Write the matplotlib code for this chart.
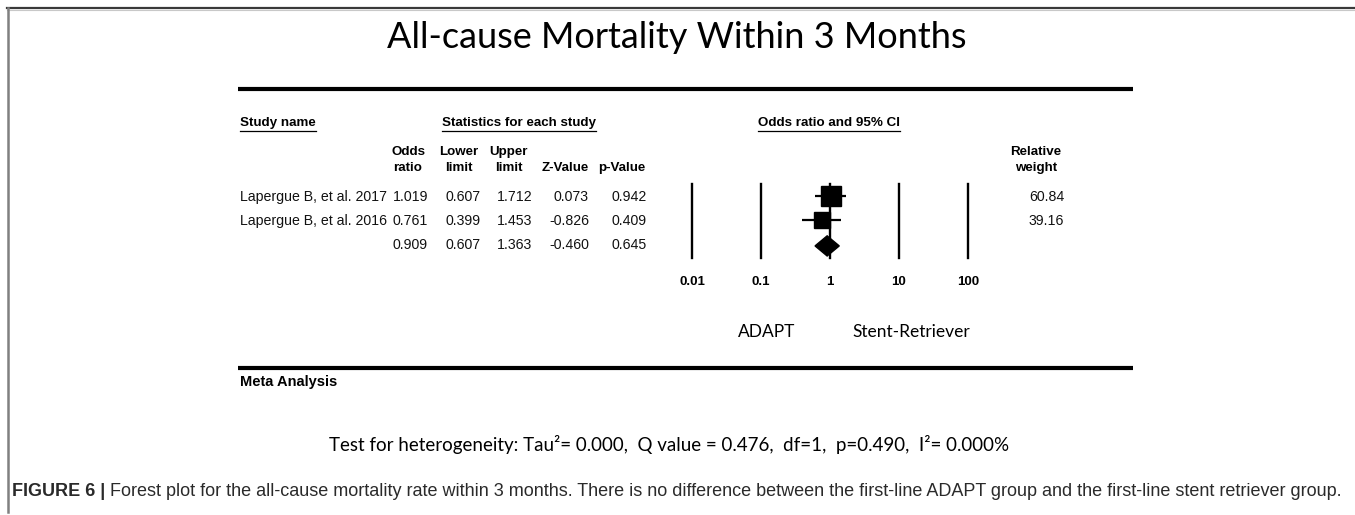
import numpy as np
import matplotlib
matplotlib.use("Agg")
import matplotlib.pyplot as plt
from matplotlib.lines import Line2D
from matplotlib.patches import Polygon

# ---------------- data ----------------
studies = ["Lapergue B, et al. 2017", "Lapergue B, et al. 2016"]
odds_ratio = [1.019, 0.761]
lower_limit = [0.607, 0.399]
upper_limit = [1.712, 1.453]
z_value = [0.073, -0.826]
p_value = [0.942, 0.409]
rel_weight = [60.84, 39.16]

summary_or = 0.909
summary_lower = 0.607
summary_upper = 1.363
summary_z = -0.460
summary_p = 0.645

axis_ticks = [0.01, 0.1, 1, 10, 100]
axis_tick_labels = ["0.01", "0.1", "1", "10", "100"]
favours = ["ADAPT", "Stent-Retriever"]

title = "All-cause Mortality Within 3 Months"
heterogeneity = ("Test for heterogeneity: Tau\u00b2= 0.000,  Q value = 0.476,  df=1,  "
                 "p=0.490,  I\u00b2= 0.000%")
caption_bold = "FIGURE 6 |"
caption_text = (" Forest plot for the all-cause mortality rate within 3 months. There is no "
                "difference between the first-line ADAPT group and the first-line stent retriever group.")

# ---------------- layout ----------------
W, H = 1355, 515
fig = plt.figure(figsize=(W / 100, H / 100), dpi=100)
fig.patch.set_facecolor("white")
ax0 = fig.add_axes([0, 0, 1, 1])
ax0.set_xlim(0, W)
ax0.set_ylim(H, 0)
ax0.axis("off")

ARIAL = "Liberation Sans"
CAL = "Lato"

# border of figure panel
ax0.add_line(Line2D([7, W], [8, 8], color="#3a3a3a", lw=1.6))
ax0.add_line(Line2D([7, W], [9.5, 9.5], color="#c8c8c8", lw=0.8))
ax0.add_line(Line2D([7.5, 7.5], [8, 512], color="#808080", lw=1.8))

# title
ax0.text(677, 38, title, ha="center", va="center", fontsize=26, family=CAL, color="black")

# thick rules
ax0.add_line(Line2D([238, 1133], [89, 89], color="black", lw=3.0, solid_capstyle="butt"))
ax0.add_line(Line2D([238, 1133], [368, 368], color="black", lw=3.0, solid_capstyle="butt"))

hfs = 9.6
rfs = 10.2

def underlined(x, y, s, ha):
    t = ax0.text(x, y, s, ha=ha, va="center", fontsize=hfs, fontweight="bold", family=ARIAL)
    fig.canvas.draw()
    bb = t.get_window_extent()
    inv = ax0.transData.inverted()
    (x0, _), (x1, _) = inv.transform([(bb.x0, bb.y0), (bb.x1, bb.y0)])
    ax0.add_line(Line2D([x0, x1], [y + 8, y + 8], color="black", lw=0.9))

underlined(240, 123, "Study name", "left")
underlined(519, 123, "Statistics for each study", "center")
underlined(829, 123, "Odds ratio and 95% CI", "center")

# column headers
col_centers = [408, 459, 509, 565, 622]
col_right = [428, 481, 532, 589, 647]
headers = [("Odds", "ratio"), ("Lower", "limit"), ("Upper", "limit"), ("", "Z-Value"), ("", "p-Value")]
for cx, (l1, l2) in zip(col_centers, headers):
    if l1:
        ax0.text(cx, 152, l1, ha="center", va="center", fontsize=hfs, fontweight="bold", family=ARIAL)
    ax0.text(cx, 168, l2, ha="center", va="center", fontsize=hfs, fontweight="bold", family=ARIAL)
ax0.text(1036, 152, "Relative", ha="center", va="center", fontsize=hfs, fontweight="bold", family=ARIAL)
ax0.text(1036, 168, "weight", ha="center", va="center", fontsize=hfs, fontweight="bold", family=ARIAL)

# rows
row_y = [197, 221, 245]
for i, name in enumerate(studies):
    y = row_y[i]
    ax0.text(240, y, name, ha="left", va="center", fontsize=rfs, family=ARIAL, color="#111")
    vals = [odds_ratio[i], lower_limit[i], upper_limit[i], z_value[i], p_value[i]]
    for xr, v in zip(col_right, vals):
        ax0.text(xr, y, f"{v:.3f}", ha="right", va="center", fontsize=rfs, family=ARIAL, color="#111")
    ax0.text(1064, y, f"{rel_weight[i]:.2f}", ha="right", va="center", fontsize=rfs, family=ARIAL, color="#111")
svals = [summary_or, summary_lower, summary_upper, summary_z, summary_p]
for xr, v in zip(col_right, svals):
    ax0.text(xr, row_y[2], f"{v:.3f}", ha="right", va="center", fontsize=rfs, family=ARIAL, color="#111")

# ---------------- forest axes ----------------
fx0, fx1 = 692, 968
fy0, fy1 = 184, 258
axf = fig.add_axes([fx0 / W, 1 - fy1 / H, (fx1 - fx0) / W, (fy1 - fy0) / H])
axf.set_xscale("log")
axf.set_xlim(axis_ticks[0], axis_ticks[-1])
# rows in units: row index; 0 -> 196px, spacing 24px
axf.set_ylim((fy1 - 196) / 24, (fy0 - 196) / 24)
axf.patch.set_alpha(0)
for s in axf.spines.values():
    s.set_visible(False)
axf.set_yticks([])
for t in axis_ticks:
    axf.axvline(t, color="black", lw=1.7, clip_on=False, zorder=1)

max_w = max(rel_weight)
for i in range(len(studies)):
    axf.plot([lower_limit[i], upper_limit[i]], [i, i], color="black", lw=1.6, zorder=2,
             solid_capstyle="butt")
    axf.plot(odds_ratio[i], i, marker="s", color="black", linestyle="none",
             markersize=14.2 * np.sqrt(rel_weight[i] / max_w), zorder=3)

sy = 2.08
hh = 0.42
diamond = Polygon([(summary_lower, sy), (summary_or, sy - hh), (summary_upper, sy), (summary_or, sy + hh)],
                  closed=True, facecolor="black", edgecolor="black", zorder=3)
axf.add_patch(diamond)

axf.set_xticks(axis_ticks)
axf.set_xticklabels(axis_tick_labels, fontsize=9.5, fontweight="bold", family=ARIAL)
axf.minorticks_off()
axf.tick_params(axis="x", length=0, pad=13)

# favours labels
ax0.text(767, 332, favours[0], ha="center", va="center", fontsize=12.5, family=CAL)
ax0.text(911, 332, favours[1], ha="center", va="center", fontsize=12.5, family=CAL)

# meta analysis
ax0.text(240, 382, "Meta Analysis", ha="left", va="center", fontsize=10.5, fontweight="bold", family=ARIAL)

# heterogeneity
ax0.text(669, 445, heterogeneity, ha="center", va="center", fontsize=13.5, family=CAL)

# caption
cb = ax0.text(12, 491, caption_bold, ha="left", va="center", fontsize=13, fontweight="bold",
              family=ARIAL, color="#2a2a2a")
fig.canvas.draw()
bb = cb.get_window_extent()
xe = ax0.transData.inverted().transform((bb.x1, bb.y0))[0]
ax0.text(xe, 491, caption_text, ha="left", va="center", fontsize=13, family=ARIAL, color="#2a2a2a")

fig.savefig("out.png", dpi=100, facecolor="white")
